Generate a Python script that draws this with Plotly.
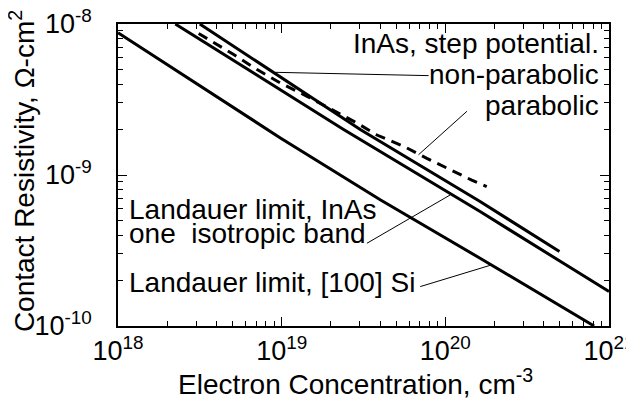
import plotly.graph_objects as go

# Data (electron concentration in cm^-3, resistivity in ohm-cm^2)
si_n = [1.0e18, 9.82e18, 4.00e19, 1.63e20, 8.11e20]
si_rho = [8.75e-9, 1.76e-9, 6.85e-10, 2.81e-10, 1.0e-10]

inas_land_n = [2.24e18, 2.39e19, 1.63e20, 1.0e21]
inas_land_rho = [1.0e-8, 2.0e-9, 5.73e-10, 1.69e-10]

nonpar_n = [3.16e18, 8.93e18, 3.02e19, 1.63e20, 4.98e20]
nonpar_rho = [1.0e-8, 4.74e-9, 2.0e-9, 6.68e-10, 3.11e-10]

par_n = [3.11e18, 5.09e18, 7.08e18, 9.82e18, 1.43e19, 2.88e19, 3.82e19, 5.56e19, 7.71e19, 1.02e20, 1.45e20, 1.79e20]
par_rho = [8.65e-9, 6.28e-9, 4.99e-9, 4.07e-9, 3.32e-9, 2.21e-9, 1.84e-9, 1.55e-9, 1.29e-9, 1.11e-9, 9.25e-10, 8.39e-10]

x_tickvals = [1e18, 1e19, 1e20, 1e21]
x_ticktext = ["10<sup>18</sup>", "10<sup>19</sup>", "10<sup>20</sup>", "10<sup>21</sup>"]
y_tickvals = [1e-10, 1e-9, 1e-8]
y_ticktext = ["10<sup>-10</sup>", "10<sup>-9</sup>", "10<sup>-8</sup>"]

FONT = "Liberation Sans, Arial, sans-serif"
FS_TICK = 27
FS = 28

fig = go.Figure()
line_style = dict(color="black", width=3)
fig.add_trace(go.Scatter(x=si_n, y=si_rho, mode="lines", line=line_style, showlegend=False))
fig.add_trace(go.Scatter(x=inas_land_n, y=inas_land_rho, mode="lines", line=line_style, showlegend=False))
fig.add_trace(go.Scatter(x=nonpar_n, y=nonpar_rho, mode="lines", line=line_style, showlegend=False))
fig.add_trace(go.Scatter(x=par_n, y=par_rho, mode="lines",
                         line=dict(color="black", width=3, dash="10px,7px"), showlegend=False))

minor_x = [float(m) * 10.0 ** e for e in range(18, 21) for m in range(2, 10)]
minor_y = [float(m) * 10.0 ** e for e in range(-10, -8) for m in range(2, 10)]

axis_common = dict(
    type="log", showline=True, linecolor="black", linewidth=1.5, mirror="ticks",
    ticks="inside", ticklen=9, tickwidth=1.2, tickcolor="black", showgrid=False,
    zeroline=False, tickfont=dict(family=FONT, size=FS_TICK, color="black"), tickmode="array",
    automargin=False, ticklabeloverflow="allow",
)
fig.update_xaxes(**axis_common, range=[18, 21], tickvals=x_tickvals, ticktext=x_ticktext,
                 minor=dict(ticks="inside", ticklen=5, tickwidth=1, tickcolor="black",
                            tickmode="array", tickvals=minor_x, showgrid=False))
fig.update_yaxes(**axis_common, range=[-10, -8], tickvals=y_tickvals, ticktext=y_ticktext,
                 ticklabelstandoff=19,
                 minor=dict(ticks="inside", ticklen=5, tickwidth=1, tickcolor="black",
                            tickmode="array", tickvals=minor_y, showgrid=False))

def ann(text, x, y, xanchor, **kw):
    fig.add_annotation(text=text, x=x, y=y, xref="x", yref="y", xanchor=xanchor, yanchor="middle",
                       showarrow=False, font=dict(family=FONT, size=FS, color="black"), **kw)

ann("InAs, step potential.", 20.952, -8.126, "right")
ann("non-parabolic", 20.952, -8.335, "right")
ann("parabolic", 20.952, -8.539, "right")
ann("Landauer limit, InAs", 18.058, -9.231, "left")
ann("one  isotropic band", 18.058, -9.390, "left")
ann("Landauer limit, [100] Si", 18.058, -9.711, "left")

# connector lines (log10 positions), converted to data units for the log axes
connectors = [
    (18.962, -8.320, 19.898, -8.342),
    (19.836, -8.866, 20.132, -8.578),
    (19.521, -9.452, 20.030, -9.132),
    (19.847, -9.739, 20.284, -9.595),
]
for x0, y0, x1, y1 in connectors:
    fig.add_shape(type="line", xref="x", yref="y",
                  x0=10 ** x0, y0=10 ** y0, x1=10 ** x1, y1=10 ** y1,
                  line=dict(color="black", width=1))

fig.add_annotation(text="Electron Concentration, cm<sup>-3</sup>", xref="paper", yref="paper",
                   x=0.483, y=-0.185, xanchor="center", yanchor="middle", showarrow=False,
                   font=dict(family=FONT, size=FS, color="black"))
fig.add_annotation(text="Contact Resistivity, \u03a9-cm<sup>2</sup>", xref="paper", yref="paper",
                   x=-0.194, y=0.512, xanchor="center", yanchor="middle", showarrow=False,
                   textangle=-90, font=dict(family=FONT, size=FS, color="black"))

# the page body adds an 8px offset; size the figure so the plot area lands where the reference has it
fig.update_layout(
    width=626, height=394, margin=dict(l=110, r=25, t=16, b=76, autoexpand=False),
    paper_bgcolor="white", plot_bgcolor="white",
    font=dict(family=FONT, size=FS, color="black"),
)
fig.write_html("out.html")
